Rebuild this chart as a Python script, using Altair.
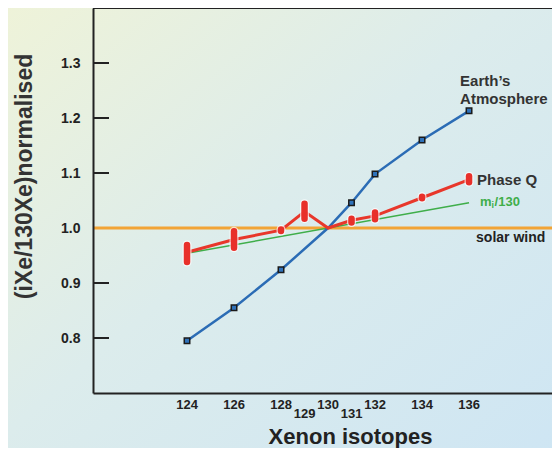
import altair as alt
import pandas as pd

# ---------------- data ----------------
earth_iso = [124, 126, 128, 130, 131, 132, 134, 136]
earth_val = [0.795, 0.855, 0.924, 1.000, 1.046, 1.098, 1.160, 1.213]
earth_marker = [True, True, True, False, True, True, True, True]

q_iso = [124, 126, 128, 129, 130, 131, 132, 134, 136]
q_val = [0.956, 0.979, 0.996, 1.030, 1.000, 1.014, 1.022, 1.055, 1.088]

bar_iso = [124, 126, 128, 129, 131, 132, 134, 136]
bar_lo = [0.938, 0.964, 0.9945, 1.017, 1.010, 1.016, 1.054, 1.083]
bar_hi = [0.969, 0.994, 0.9975, 1.044, 1.017, 1.028, 1.057, 1.094]

mass_iso = [124, 136]
mass_val = [0.954, 1.046]

solar_val = [1.0]

y_ticks = [0.8, 0.9, 1.0, 1.1, 1.2, 1.3]
x_main = [124, 126, 128, 130, 132, 134, 136]
x_low = [129, 131]

# label anchors (data coordinates)
lab_earth1 = {"x": 135.62, "y": 1.268, "t": "Earth\u2019s"}
lab_earth2 = {"x": 135.62, "y": 1.2345, "t": "Atmosphere"}
lab_q = {"x": 136.34, "y": 1.087, "t": "Phase Q"}
lab_m = {"x": 136.47, "y": 1.048}
lab_solar = {"x": 136.30, "y": 0.982, "t": "solar wind"}

# ---------------- layout ----------------
W, H = 459, 385
xs = alt.Scale(domain=[120, 139.53], nice=False, zero=False)
ys = alt.Scale(domain=[0.7, 1.4], nice=False, zero=False)
DARK = "#222222"
FONT = "Liberation Sans"

xaxis = alt.Axis(labels=False, ticks=False, grid=False, domainColor=DARK, domainWidth=2,
                 title="Xenon isotopes", titleX=257, titleY=43, titleBaseline="middle",
                 titleFontSize=22, titleFontWeight="bold", titleColor=DARK, titleFont=FONT,
                 zindex=1)
yaxis = alt.Axis(values=y_ticks, format=".1f", ticks=False, tickSize=0, grid=False,
                 labelPadding=13, labelFontSize=14, labelFontWeight="bold", labelColor=DARK,
                 labelFont=FONT, domainColor=DARK, domainWidth=2,
                 title="(iXe/130Xe)normalised", titleX=-69, titleY=168, titleAngle=270,
                 titleBaseline="middle", titleAlign="center", titleFontSize=23,
                 titleFontWeight="bold", titleColor="#333333", titleFont=FONT, zindex=1)


def X():
    return alt.X("x:Q", scale=xs, axis=xaxis)


def Y():
    return alt.Y("y:Q", scale=ys, axis=yaxis)


earth_df = pd.DataFrame({"x": earth_iso, "y": earth_val, "m": earth_marker})
q_df = pd.DataFrame({"x": q_iso, "y": q_val})
bar_df = pd.DataFrame({"x": bar_iso, "y": bar_lo, "y2": bar_hi})
mass_df = pd.DataFrame({"x": mass_iso, "y": mass_val})
solar_df = pd.DataFrame({"y": solar_val})
tick_df = pd.DataFrame({"y": y_ticks})
xm_df = pd.DataFrame({"x": x_main, "t": [str(v) for v in x_main]})
xl_df = pd.DataFrame({"x": x_low, "t": [str(v) for v in x_low]})

grad = {
    "gradient": "linear", "x1": 0, "y1": 0, "x2": 1, "y2": 1,
    "stops": [
        {"offset": 0, "color": "#eff3d8"},
        {"offset": 0.45, "color": "#dcecec"},
        {"offset": 1, "color": "#cde5f4"},
    ],
}

bg = alt.Chart(alt.Data(values=[{"a": 1}])).mark_rect(fill=grad, strokeWidth=0).encode(
    x=alt.value(-90), x2=alt.value(W + 20), y=alt.value(-10), y2=alt.value(H + 90)
)

top_line = alt.Chart(alt.Data(values=[{"a": 1}])).mark_rule(color=DARK, strokeWidth=2).encode(
    x=alt.value(0), x2=alt.value(W + 20), y=alt.value(0)
)

inner_ticks = alt.Chart(tick_df).mark_rule(color=DARK, strokeWidth=2).encode(
    y=Y(), x=alt.value(0), x2=alt.value(16)
)

solar = alt.Chart(solar_df).mark_rule(color="#f2a436", strokeWidth=3).encode(y=Y())

mass = alt.Chart(mass_df).mark_line(color="#3fae4a", strokeWidth=1.5).encode(x=X(), y=Y())

earth_line = alt.Chart(earth_df).mark_line(color="#2b6cb5", strokeWidth=2.5).encode(x=X(), y=Y())
earth_pts = alt.Chart(earth_df).transform_filter("datum.m").mark_point(
    shape="square", filled=True, fill="#2f72ba", stroke="#1a1a1a", strokeWidth=1.5,
    size=30, opacity=1
).encode(x=X(), y=Y())

q_line = alt.Chart(q_df).mark_line(color="#e8372b", strokeWidth=3).encode(x=X(), y=Y())
bar_halo = alt.Chart(bar_df).mark_rule(color="#ffffff", strokeWidth=9, strokeCap="round",
                                        opacity=0.7).encode(x=X(), y=Y(), y2="y2:Q")
bar_red = alt.Chart(bar_df).mark_rule(color="#e8302a", strokeWidth=6.5, strokeCap="round").encode(
    x=X(), y=Y(), y2="y2:Q")


def label(d, color, size, dx=0, dy=0, weight="bold"):
    return alt.Chart(alt.Data(values=[d])).mark_text(
        align="left", baseline="middle", font=FONT, fontSize=size, fontWeight=weight,
        color=color, dx=dx, dy=dy
    ).encode(x=X(), y=Y(), text="t:N")


l1 = label(lab_earth1, "#333333", 15)
l2 = label(lab_earth2, "#333333", 15)
l3 = label(lab_q, "#333333", 15)
l4 = label(lab_solar, "#222222", 14)
m1 = label(dict(lab_m, t="m"), "#3fae4a", 13)
m2 = label(dict(lab_m, t="i"), "#3fae4a", 9, dx=11.5, dy=3)
m3 = label(dict(lab_m, t="/130"), "#3fae4a", 13, dx=14.5)

xlab_main = alt.Chart(xm_df).mark_text(
    baseline="middle", align="center", font=FONT, fontSize=13, fontWeight="bold", color=DARK
).encode(x=X(), y=alt.value(H + 12), text="t:N")
xlab_low = alt.Chart(xl_df).mark_text(
    baseline="middle", align="center", font=FONT, fontSize=13, fontWeight="bold", color=DARK
).encode(x=X(), y=alt.value(H + 21), text="t:N")

chart = alt.layer(
    bg, top_line, inner_ticks, solar, mass, earth_line, earth_pts, q_line,
    bar_halo, bar_red, l1, l2, l3, l4, m1, m2, m3, xlab_main, xlab_low
).properties(
    width=W, height=H, autosize="none",
    padding={"left": 85, "top": 0, "right": 0, "bottom": 55},
).configure_view(stroke=None).configure(background="#ffffff")

chart.save("out.html", embed_options={"renderer": "svg", "actions": False})
